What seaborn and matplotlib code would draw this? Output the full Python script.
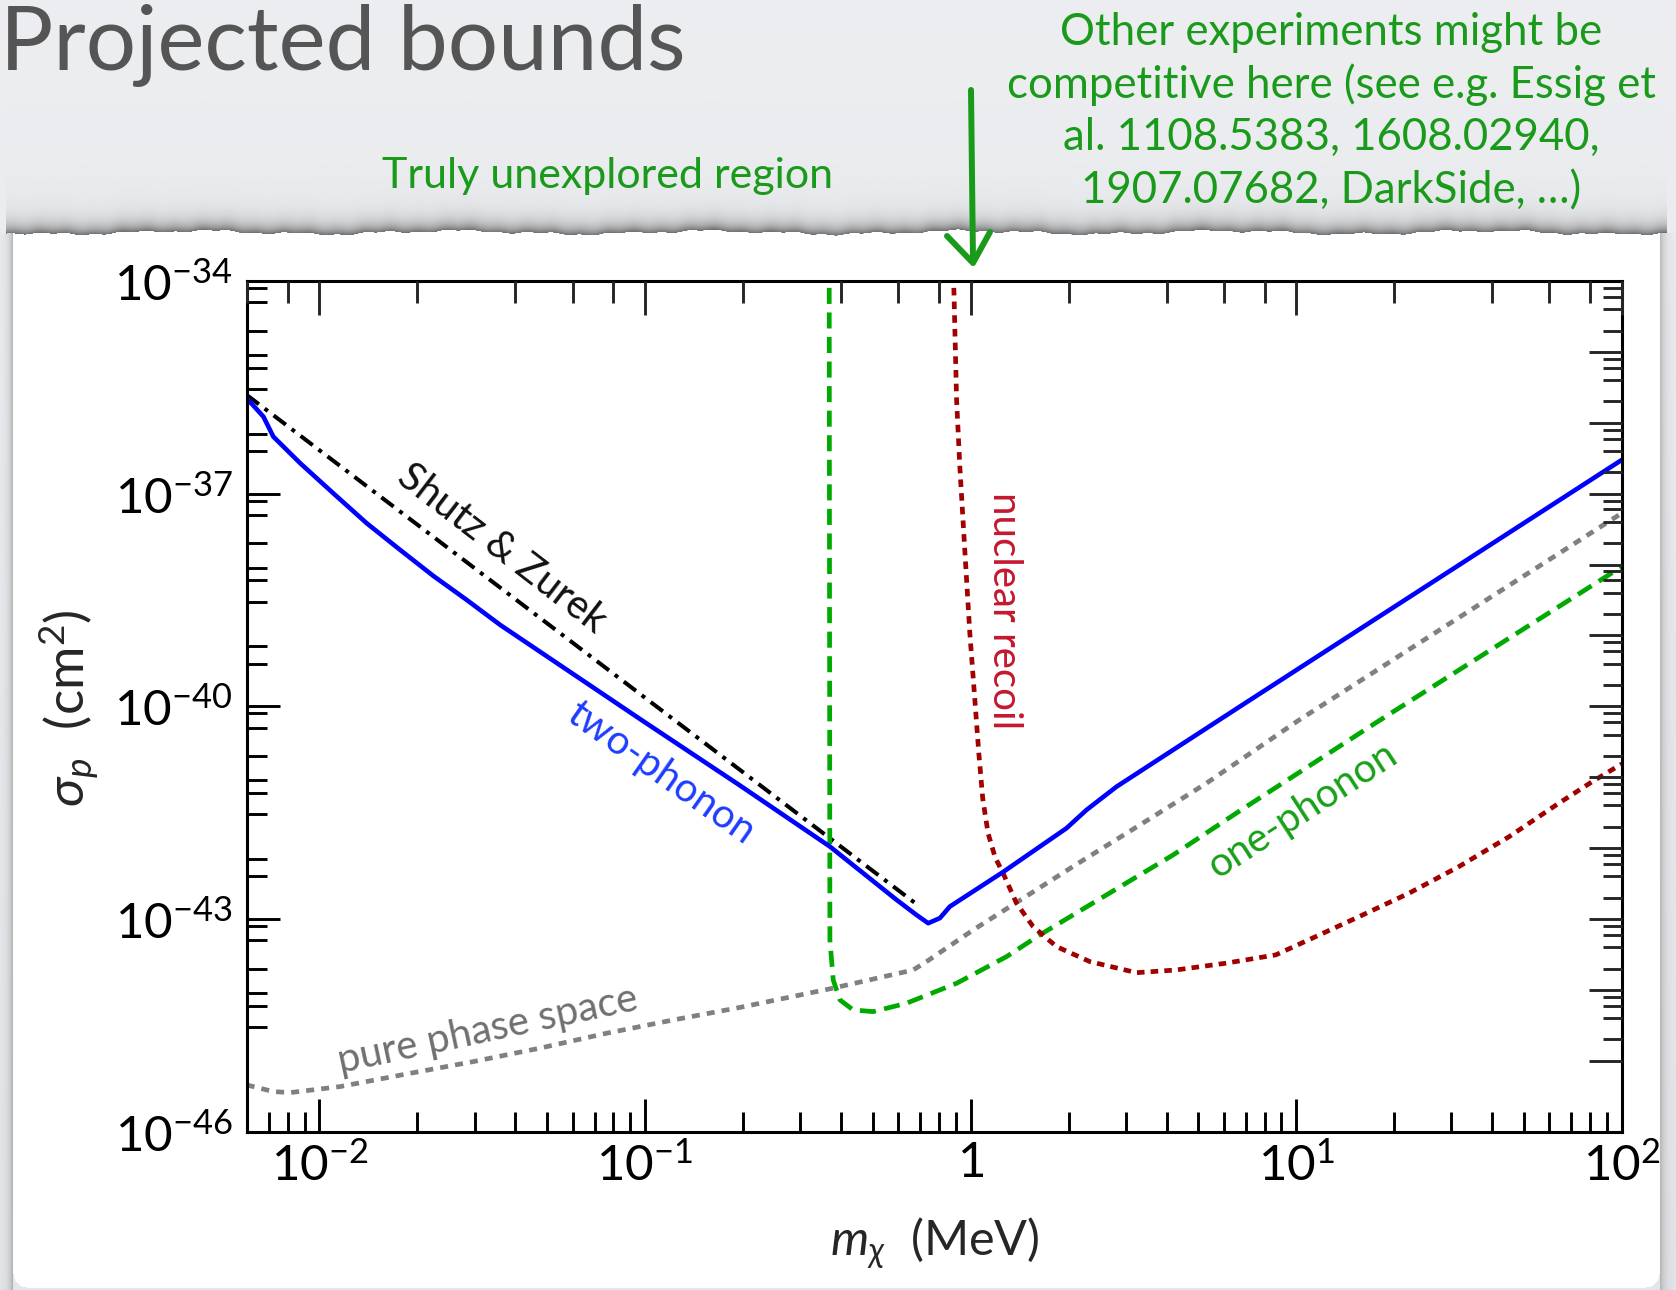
import numpy as np
import matplotlib
matplotlib.use("Agg")
import matplotlib.pyplot as plt
import seaborn as sns
from matplotlib.ticker import FixedLocator, FixedFormatter, NullFormatter

# ---------------- data ----------------
sz_mass = [0.00598, 0.698]
sz_sigma = [2.47e-36, 1.50e-43]

two_mass = [0.00598, 0.00673, 0.00722, 0.00873, 0.01104, 0.01398, 0.0177, 0.0224,
            0.02835, 0.0359, 0.0975, 0.1957, 0.370, 0.593, 0.6826, 0.741, 0.805,
            0.864, 1.259, 1.971, 2.271, 2.808, 4.19, 6.71, 100]
two_sigma = [2.22e-36, 1.22e-36, 6.37e-37, 2.69e-37, 1.01e-37, 3.82e-38, 1.61e-38,
             6.9e-39, 3.17e-39, 1.41e-39, 6.43e-41, 7.66e-42, 1.05e-42, 1.86e-43,
             1.14e-43, 8.73e-44, 1.03e-43, 1.50e-43, 4.61e-43, 1.91e-42, 3.46e-42,
             7.36e-42, 2.43e-41, 9.9e-41, 2.99e-37]

pps_mass = [0.00598, 0.00722, 0.00813, 0.01158, 0.01855, 0.02971, 0.0476, 0.0763,
            0.1222, 0.1957, 0.3786, 0.6664, 0.7326, 1.019, 1.450, 2.065, 3.31, 5.30,
            10.14, 100]
pps_sigma = [4.57e-46, 3.68e-46, 3.56e-46, 4.33e-46, 6.53e-46, 9.75e-46, 1.51e-45,
             2.45e-45, 3.77e-45, 5.66e-45, 1.06e-44, 1.91e-44, 2.51e-44, 7.02e-44,
             1.96e-43, 5.52e-43, 2.12e-42, 8.22e-42, 6.28e-41, 5.3e-38]

one_mass = [0.368, 0.3698, 0.3786, 0.3970, 0.4359, 0.5023, 0.636, 0.906, 1.290,
            1.632, 2.616, 4.19, 6.71, 17.93, 100]
one_sigma = [8.0e-35, 5.07e-44, 1.38e-44, 7.22e-45, 5.22e-45, 4.94e-45, 6.49e-45,
             1.24e-44, 2.95e-44, 5.97e-44, 2.19e-43, 8.02e-43, 3.35e-42, 6.22e-41,
             9.33e-39]

nr_mass = [0.8886, 0.906, 0.927, 0.960, 0.995, 1.031, 1.060, 1.090, 1.132, 1.190,
           1.259, 1.384, 1.557, 1.837, 2.324, 3.234, 4.268, 6.08, 8.66, 11.49, 15.60,
           22.2, 31.6, 45.1, 64.1, 81.2, 100]
nr_sigma = [8.0e-35, 2.10e-36, 2.41e-37, 1.61e-38, 1.07e-39, 1.23e-40, 2.2e-41,
            5.0e-42, 1.62e-42, 7.4e-43, 4.42e-43, 1.67e-43, 7.81e-44, 4.08e-44,
            2.51e-44, 1.75e-44, 1.91e-44, 2.38e-44, 3.12e-44, 5.65e-44, 1.08e-43,
            2.31e-43, 5.48e-43, 1.45e-42, 4.30e-42, 8.67e-42, 1.54e-41]

x_major = [1e-2, 1e-1, 1, 10, 100]
x_major_labels = [r"$10^{-2}$", r"$10^{-1}$", r"$1$", r"$10^{1}$", r"$10^{2}$"]
y_major = [1e-34, 1e-37, 1e-40, 1e-43, 1e-46]
y_major_labels = [r"$10^{-34}$", r"$10^{-37}$", r"$10^{-40}$", r"$10^{-43}$", r"$10^{-46}$"]
x_limits = (0.00598, 100)
y_limits = (1e-46, 1e-34)

# ---------------- style ----------------
sns.set_style("ticks")
plt.rcParams["font.family"] = ["Lato", "DejaVu Sans"]
plt.rcParams["font.weight"] = "normal"
plt.rcParams["mathtext.fontset"] = "custom"
plt.rcParams["mathtext.rm"] = "Lato"
plt.rcParams["mathtext.it"] = "Lato:italic"
plt.rcParams["mathtext.bf"] = "Lato:bold"
plt.rcParams["mathtext.sf"] = "Lato"
plt.rcParams["mathtext.fallback"] = "cm"

W, H = 1676, 1290
fig = plt.figure(figsize=(W / 100, H / 100), dpi=100)

# ---------------- slide background with torn paper ----------------
yy, xx = np.mgrid[0:H, 0:W].astype(float)
t = yy / H
bg = np.stack([0.925 - 0.03 * t, 0.932 - 0.03 * t, 0.942 - 0.03 * t], axis=-1)
PL, PR, PB = 13.0, 1658.0, 1287.0
ytop = 232 + 1.6 * np.sin(xx / 41.0) + 1.0 * np.sin(xx / 13.0 + 0.7) + 0.6 * np.sin(xx / 4.3 + 1.9)
shade = np.zeros_like(xx)
d_top = ytop - yy
above = (d_top > 0) & (xx > PL - 8) & (xx < PR + 8)
shade = np.where(above, 0.48 * np.exp(-d_top / 8.0) + 0.05 * np.exp(-d_top / 25.0), shade)
below = yy > ytop
dl = PL - xx
shade = np.where(below & (dl > 0), np.maximum(shade, 0.28 * np.exp(-dl / 4.0)), shade)
dr = xx - PR
shade = np.where(below & (dr > 0), np.maximum(shade, 0.25 * np.exp(-dr / 5.0)), shade)
img = bg * (1 - shade[..., None])
paper = (xx >= PL) & (xx <= PR) & (yy >= ytop) & (yy <= PB)
r = 14.0
corner_l = (xx < PL + r) & (yy > PB - r) & ((xx - (PL + r)) ** 2 + (yy - (PB - r)) ** 2 > r ** 2)
corner_r = (xx > PR - r) & (yy > PB - r) & ((xx - (PR - r)) ** 2 + (yy - (PB - r)) ** 2 > r ** 2)
paper &= ~(corner_l | corner_r)
img[paper] = 1.0

axbg = fig.add_axes([0, 0, 1, 1], zorder=-5)
axbg.imshow(img, extent=(0, W, H, 0), aspect="auto", interpolation="bilinear")
axbg.set_xlim(0, W)
axbg.set_ylim(H, 0)
axbg.axis("off")

slide_green = "#1a9a1a"
axbg.text(0, 70, "Projected bounds", fontsize=64, color="#555555",
          ha="left", va="baseline")
axbg.text(608, 188, "Truly unexplored region", fontsize=31, color=slide_green,
          ha="center", va="baseline")
other_lines = ["Other experiments might be",
               "competitive here (see e.g. Essig et",
               "al. 1108.5383, 1608.02940,",
               "1907.07682, DarkSide, \u2026)"]
for i, line in enumerate(other_lines):
    axbg.text(1331, 45 + 52.7 * i, line, fontsize=31.5, color=slide_green,
              ha="center", va="baseline")
# hand drawn arrow
axbg.plot([971, 972, 973], [90, 175, 261], color=slide_green, lw=4.3,
          solid_capstyle="round")
axbg.plot([947, 973, 990], [236, 263, 232], color=slide_green, lw=4.3,
          solid_capstyle="round", solid_joinstyle="round")

# ---------------- main axes ----------------
ax = fig.add_axes([246.7 / W, 1 - 1131.7 / H, 1375.0 / W, 850.7 / H])
ax.set_facecolor("white")
ax.set_xscale("log")
ax.set_yscale("log")

sns.lineplot(x=sz_mass, y=sz_sigma, ax=ax, color="black", linewidth=2.9,
             linestyle=(0, (3.8, 1.8, 1.0, 1.8)), sort=False, estimator=None)
sns.lineplot(x=pps_mass, y=pps_sigma, ax=ax, color="#808080", linewidth=3.4,
             linestyle=(0, (1.7, 1.5)), sort=False, estimator=None)
sns.lineplot(x=one_mass, y=one_sigma, ax=ax, color="#00aa00", linewidth=3.4,
             linestyle=(0, (3.4, 1.8)), sort=False, estimator=None)
sns.lineplot(x=nr_mass, y=nr_sigma, ax=ax, color="#a00000", linewidth=3.4,
             linestyle=(0, (1.6, 1.3)), sort=False, estimator=None)
sns.lineplot(x=two_mass, y=two_sigma, ax=ax, color="#0000ff", linewidth=3.3,
             sort=False, estimator=None)

ax.set_xlim(*x_limits)
ax.set_ylim(*y_limits)

# bottom / left ticks
x_minor = [m * 10.0 ** k for k in range(-3, 2) for m in range(2, 10)]
x_minor = [v for v in x_minor if x_limits[0] < v < x_limits[1]]
y_minor = []
for e in (-37, -40, -43):
    y_minor += [4 * 10.0 ** e, 7 * 10.0 ** e]
for e in (-46, -43, -40, -37):
    y_minor += [m * 10.0 ** (e + 1) for m in (3, 6, 9)]
    y_minor += [m * 10.0 ** (e + 2) for m in (2, 5, 8)]

ax.xaxis.set_major_locator(FixedLocator(x_major))
ax.xaxis.set_major_formatter(FixedFormatter(x_major_labels))
ax.xaxis.set_minor_locator(FixedLocator(x_minor))
ax.xaxis.set_minor_formatter(NullFormatter())
ax.yaxis.set_major_locator(FixedLocator(y_major))
ax.yaxis.set_major_formatter(FixedFormatter(y_major_labels))
ax.yaxis.set_minor_locator(FixedLocator(y_minor))
ax.yaxis.set_minor_formatter(NullFormatter())

tick_w = 2.1
ax.tick_params(which="both", direction="in", width=tick_w, color="black",
               top=False, right=False, labelsize=35.5, labelcolor="black")
ax.tick_params(which="major", length=23.8)
ax.tick_params(which="minor", length=14.4)
ax.tick_params(axis="x", pad=7)
ax.tick_params(axis="y", pad=10)
for s in ax.spines.values():
    s.set_linewidth(2.2)
    s.set_color("black")
    s.set_visible(True)

# top ticks
axt = ax.twiny()
axt.set_xscale("log")
axt.set_xlim(*x_limits)
axt.xaxis.set_major_locator(FixedLocator(x_major))
axt.xaxis.set_minor_locator(FixedLocator(
    [m * 10.0 ** k for k in range(-3, 2) for m in (2, 4, 6, 8)
     if x_limits[0] < m * 10.0 ** k < x_limits[1]]))
axt.xaxis.set_major_formatter(NullFormatter())
axt.xaxis.set_minor_formatter(NullFormatter())
axt.tick_params(axis="x", which="both", direction="in", width=tick_w, top=True,
                bottom=False, labeltop=False, labelbottom=False)
axt.tick_params(axis="x", which="major", length=24.5)
axt.tick_params(axis="x", which="minor", length=15.5)

# right ticks
axr = ax.twinx()
axr.set_yscale("log")
axr.set_ylim(*y_limits)
axr.yaxis.set_major_locator(FixedLocator([10.0 ** k for k in range(-45, -34)]))
axr.yaxis.set_minor_locator(FixedLocator(
    [m * 10.0 ** k for k in range(-45, -34) for m in (2, 4, 6, 8)]))
axr.yaxis.set_major_formatter(NullFormatter())
axr.yaxis.set_minor_formatter(NullFormatter())
axr.tick_params(axis="y", which="both", direction="in", width=tick_w, right=True,
                left=False, labelright=False, labelleft=False)
axr.tick_params(axis="y", which="major", length=23.8)
axr.tick_params(axis="y", which="minor", length=13.7)
for a in (axt, axr):
    for s in a.spines.values():
        s.set_visible(False)

# axis labels
ax.set_xlabel(r"$m_\chi\ \ (\mathrm{MeV})$", fontsize=35)
ax.xaxis.set_label_coords(0.5006, -0.1308)
ax.xaxis.label.set_va("center")
ax.set_ylabel(r"$\sigma_p\ \ (\mathrm{cm}^2)$", fontsize=38)
ax.yaxis.set_label_coords(-0.1292, 0.498)
ax.yaxis.label.set_va("center")
ax.yaxis.label.set_ha("center")

# curve annotations
txt_kw = dict(ha="center", va="center", rotation_mode="anchor", fontsize=29)
ax.text(0.0363, 1.66e-38, "Shutz & Zurek", color="#111111", rotation=-37.5, **txt_kw)
ax.text(0.112, 1.17e-41, "two-phonon", color="#1e3cff", rotation=-35, **txt_kw)
ax.text(1.274, 2.22e-39, "nuclear recoil", color="#c4182f", rotation=-90, **txt_kw)
ax.text(10.44, 3.46e-42, "one-phonon", color="#18a018", rotation=33, **txt_kw)
ax.text(0.0328, 2.69e-45, "pure phase space", color="#707070", rotation=12, **txt_kw)

fig.savefig("out.png", dpi=100)
